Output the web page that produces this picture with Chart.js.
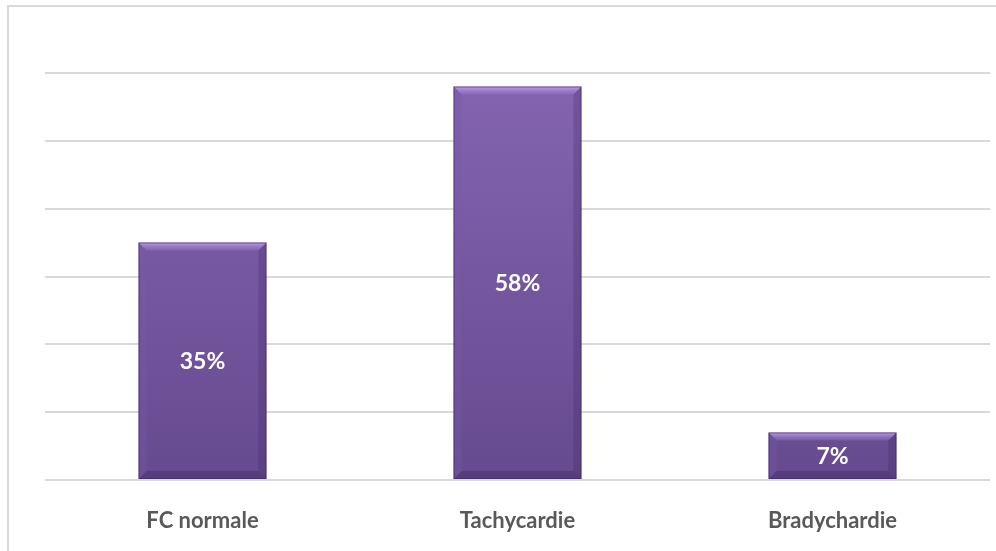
<!DOCTYPE html>
<html>
<head>
<meta charset="utf-8">
<script src="https://cdn.jsdelivr.net/npm/chart.js@4/dist/chart.umd.min.js"></script>
<style>
    body { margin: 0; background: #fff; }
    #wrap { position: relative; width: 996px; height: 551px; overflow: hidden; }
    #frame { position: absolute; left: 7px; top: 5px; width: 1100px; height: 700px; border: 2px solid #d9d9d9; }
    #chart { position: absolute; left: 0; top: 0; }
</style>
</head>
<body>
<div id="wrap">
    <div id="frame"></div>
    <canvas id="chart" width="996" height="551"></canvas>
</div>
<script>
// fréquence cardiaque
var categories = ['FC normale', 'Tachycardie', 'Bradychardie'];
var percentages = [35, 58, 7];
var yTicks = [0, 10, 20, 30, 40, 50, 60];

// draws the bevelled look and the value label on each bar
var bevelBars = {
    id: 'bevelBars',
    afterDatasetsDraw: function (chart) {
        var ctx = chart.ctx;
        var meta = chart.getDatasetMeta(0);
        meta.data.forEach(function (bar, i) {
            var p = bar.getProps(['x', 'y', 'base', 'width'], true);
            var x0 = p.x - p.width / 2, x1 = p.x + p.width / 2;
            var y0 = p.y, y1 = p.base;
            var b = Math.min(8, (y1 - y0) / 3);
            ctx.save();

            // top
            var gt = ctx.createLinearGradient(0, y0, 0, y0 + b);
            gt.addColorStop(0, 'rgba(200,170,240,0.85)');
            gt.addColorStop(1, 'rgba(160,130,210,0.25)');
            ctx.fillStyle = gt;
            ctx.beginPath();
            ctx.moveTo(x0, y0); ctx.lineTo(x1, y0); ctx.lineTo(x1 - b, y0 + b); ctx.lineTo(x0 + b, y0 + b);
            ctx.closePath(); ctx.fill();

            // left
            ctx.fillStyle = 'rgba(120,90,170,0.35)';
            ctx.beginPath();
            ctx.moveTo(x0, y0); ctx.lineTo(x0 + b, y0 + b); ctx.lineTo(x0 + b, y1 - b); ctx.lineTo(x0, y1);
            ctx.closePath(); ctx.fill();

            // right
            ctx.fillStyle = 'rgba(50,30,80,0.22)';
            ctx.beginPath();
            ctx.moveTo(x1, y0); ctx.lineTo(x1 - b, y0 + b); ctx.lineTo(x1 - b, y1 - b); ctx.lineTo(x1, y1);
            ctx.closePath(); ctx.fill();

            // bottom
            ctx.fillStyle = 'rgba(40,20,70,0.25)';
            ctx.beginPath();
            ctx.moveTo(x0, y1); ctx.lineTo(x0 + b, y1 - b); ctx.lineTo(x1 - b, y1 - b); ctx.lineTo(x1, y1);
            ctx.closePath(); ctx.fill();

            // outline
            ctx.strokeStyle = 'rgba(60,40,90,0.55)';
            ctx.lineWidth = 1;
            ctx.strokeRect(x0 + 0.5, y0 + 0.5, p.width - 1, y1 - y0 - 1);

            // value
            ctx.fillStyle = '#ffffff';
            ctx.font = 'bold 23px Lato';
            ctx.textAlign = 'center';
            ctx.textBaseline = 'middle';
            ctx.fillText(percentages[i] + '%', p.x, (y0 + y1) / 2 + 1);
            ctx.restore();
        });
    }
};

var ctx = document.getElementById('chart').getContext('2d');
var myChart = new Chart(ctx, {
    type: 'bar',
    data: {
        labels: categories,
        datasets: [
            {
                data: percentages,
                categoryPercentage: 1,
                barPercentage: 0.406,
                backgroundColor: function (c) {
                    var area = c.chart.chartArea;
                    if (!area) return '#7a5ba6';
                    var g = c.chart.ctx.createLinearGradient(0, area.top, 0, area.bottom);
                    g.addColorStop(0, '#8464b0');
                    g.addColorStop(1, '#664a8f');
                    return g;
                },
                borderWidth: 0
            }
        ]
    },
    options: {
        responsive: false,
        animation: false,
        layout: {
            padding: { left: 45, right: 6, top: 73, bottom: 0 }
        },
        scales: {
            x: {
                grid: { display: false, drawTicks: false },
                border: { display: false },
                afterFit: function (axis) { axis.height = 71; },
                ticks: {
                    color: '#595959',
                    padding: 28,
                    font: { family: 'Lato', size: 22, weight: 'bold' }
                }
            },
            y: {
                min: 0,
                max: 60,
                afterBuildTicks: function (axis) {
                    axis.ticks = yTicks.map(function (v) { return { value: v }; });
                },
                ticks: { display: false },
                grid: { color: '#d9d9d9', lineWidth: 2, drawTicks: false },
                border: { display: false }
            }
        },
        plugins: {
            legend: { display: false },
            tooltip: { enabled: false }
        }
    },
    plugins: [bevelBars]
});
</script>
</body>
</html>
